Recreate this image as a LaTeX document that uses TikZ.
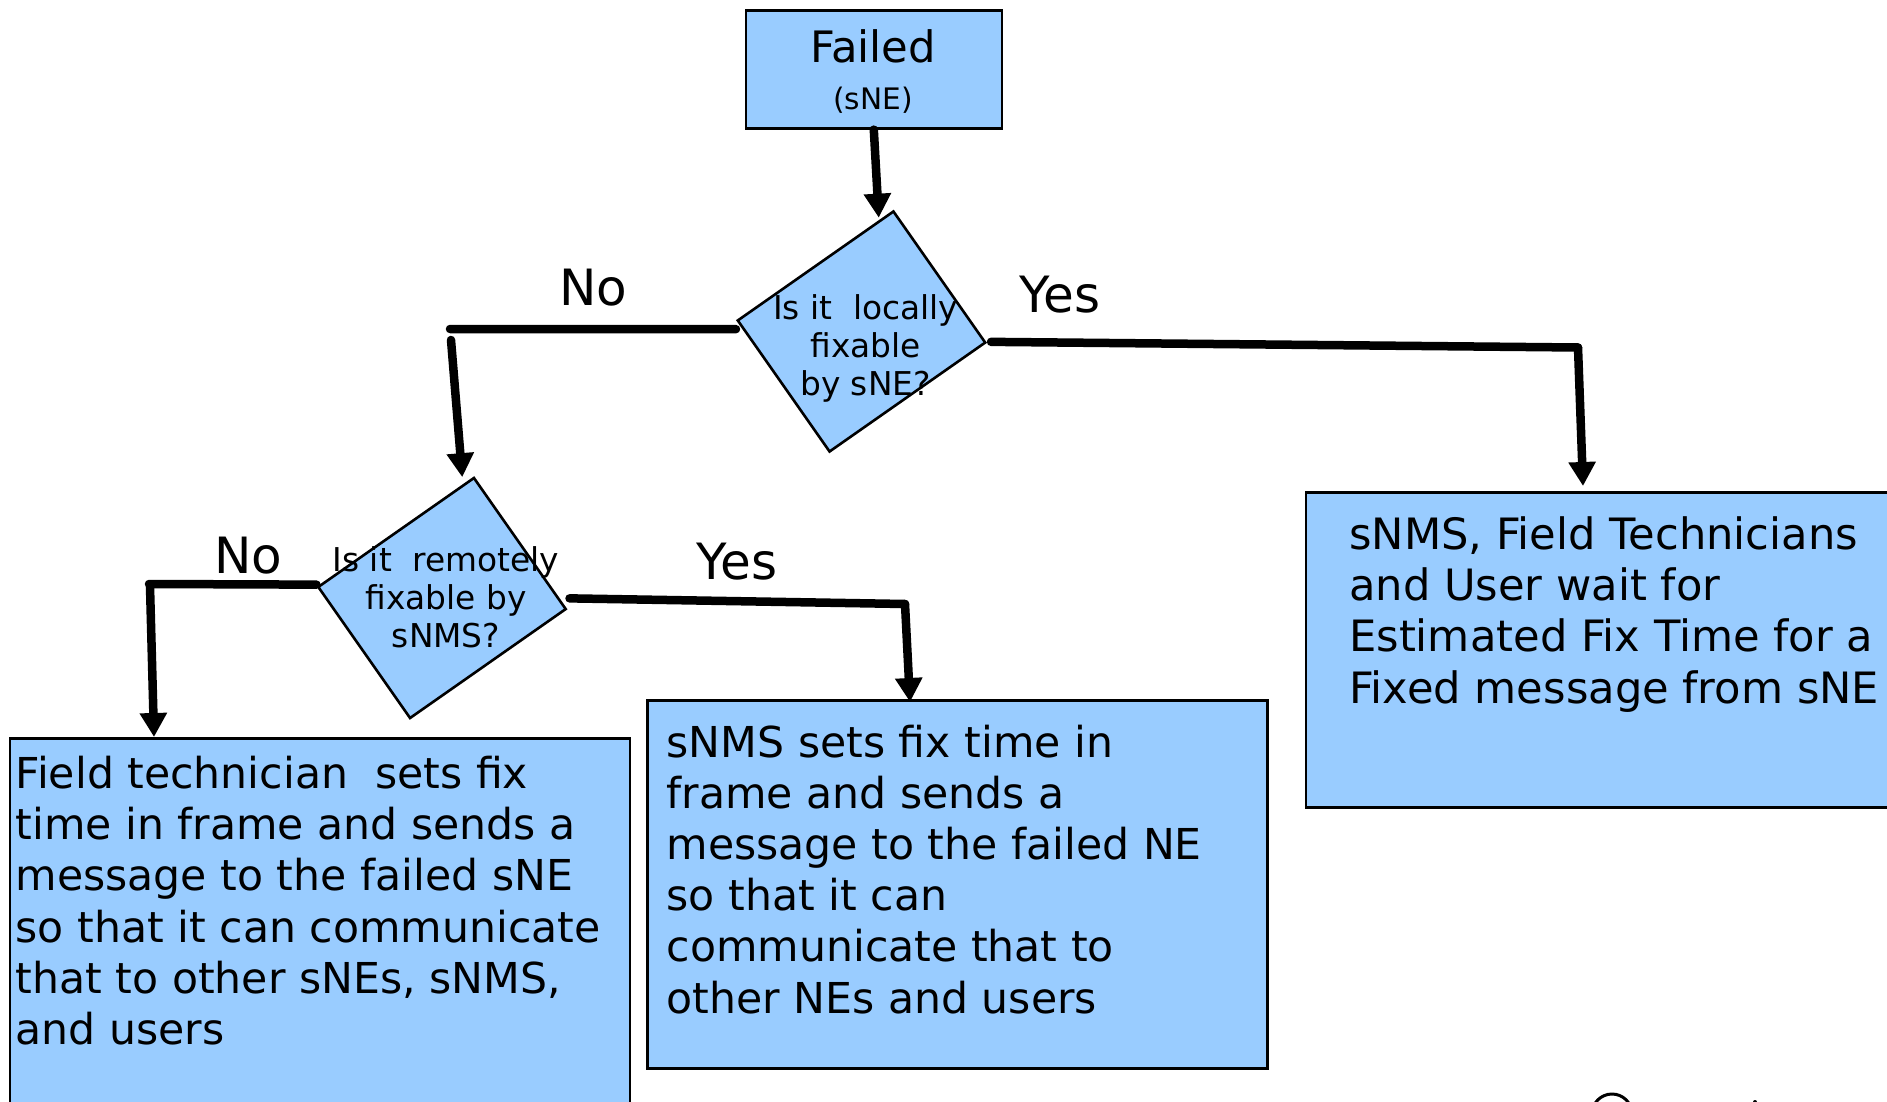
\documentclass[tikz,border=0pt]{standalone}
\usepackage{fontspec}
\setmainfont{DejaVu Sans}
\usetikzlibrary{arrows.meta}
\definecolor{boxblue}{HTML}{99CCFF}
\tikzset{
  x=1pt,y=-1pt,
  bluebox/.style={draw=black,fill=boxblue,line width=2.6pt,inner sep=0pt,anchor=north west},
  choice/.style={draw=black,fill=boxblue,line width=2.6pt,inner sep=0pt,rotate=35,minimum width=190pt,minimum height=160pt},
  conn/.style={line width=8.5pt,line cap=round,line join=round},
  arr/.style={conn,-{Triangle[length=24pt,width=26pt]}},
  bigtext/.style={inner sep=0pt,anchor=north west,align=left,font=\fontsize{42.6}{51.2}\selectfont},
  labeltext/.style={inner sep=0pt,font=\fontsize{50}{51}\selectfont},
  smalltext/.style={inner sep=0pt,align=center,font=\fontsize{32.8}{38}\selectfont},
}
\begin{document}
\begin{tikzpicture}
\useasboundingbox (0,0) rectangle (1887,1102);
\clip (0,0) rectangle (1887,1102);
\node[bluebox,minimum width=256pt,minimum height=118pt] (failed) at (744.5,9) {};
\node[bluebox,minimum width=620pt,minimum height=420pt] (fieldbox) at (8.5,737) {};
\node[bluebox,minimum width=620pt,minimum height=368pt] (snmsbox) at (646,699) {};
\node[bluebox,minimum width=640pt,minimum height=315pt] (waitbox) at (1304.5,491) {};
\node[choice] (d1) at (861.5,331.5) {};
\node[choice] (d2) at (442,598) {};
\node[inner sep=0pt,font=\fontsize{43.3}{51}\selectfont] (tfail) at (873,46.5) {Failed};
\node[inner sep=0pt,font=\fontsize{29.6}{34}\selectfont] (tsne) at (873,100) {(sNE)};
\node[smalltext] (t1) at (865.5,348) {Is it\ \ locally\\fixable\\by sNE?};
\node[smalltext] (t2) at (446,597) {Is it\ \ remotely\\fixable by\\sNMS?};
\node[labeltext] (no1) at (593,288) {No};
\node[labeltext] (yes1) at (1060,295) {Yes};
\node[labeltext] (no2) at (248,555.5) {No};
\node[labeltext] (yes2) at (737,562) {Yes};
\node[bigtext] (tf) at (15.5,756) {Field technician\ \ sets fix\\time in frame and sends a\\message to the failed sNE\\so that it can communicate\\that to other sNEs, sNMS,\\and users};
\node[bigtext] (ts) at (666.5,724.5) {sNMS sets fix time in\\frame and sends a\\message to the failed NE\\so that it can\\communicate that to\\other NEs and users};
\node[bigtext,font=\fontsize{43.2}{51.2}\selectfont] (tw) at (1349,516.5) {sNMS, Field Technicians\\and User wait for\\Estimated Fix Time for a\\Fixed message from sNE};
\coordinate (bend1) at (450,329);
\coordinate (bend2) at (1578,347.5);
\coordinate (bend3) at (149,584);
\coordinate (bend4) at (905,604);
\draw[arr] (failed.south) -- ([shift={(-15,8)}]d1.north east);
\draw[conn] ([shift={(0,9)}]d1.north west) -- (bend1);
\draw[arr] ([shift={(1,11)}]bend1) -- ([shift={(-12,1)}]d2.north east);
\draw[conn] ([shift={(4,-1)}]d1.south east) -- (bend2);
\draw[arr] (bend2) -- ([shift={(5,-5)}]waitbox.north west -| bend2);
\draw[conn] ([shift={(0,-2)}]d2.north west) -- (bend3);
\draw[arr] ([shift={(1,2)}]bend3) -- ([shift={(5,0)}]fieldbox.north west -| bend3);
\draw[conn] ([shift={(2,-11)}]d2.south east) -- (bend4);
\draw[arr] (bend4) -- ([shift={(5,3)}]snmsbox.north west -| bend4);
\draw[line width=3pt] (1612,1114) circle (20);
\fill (1755,1102) circle (2);
\end{tikzpicture}
\end{document}
